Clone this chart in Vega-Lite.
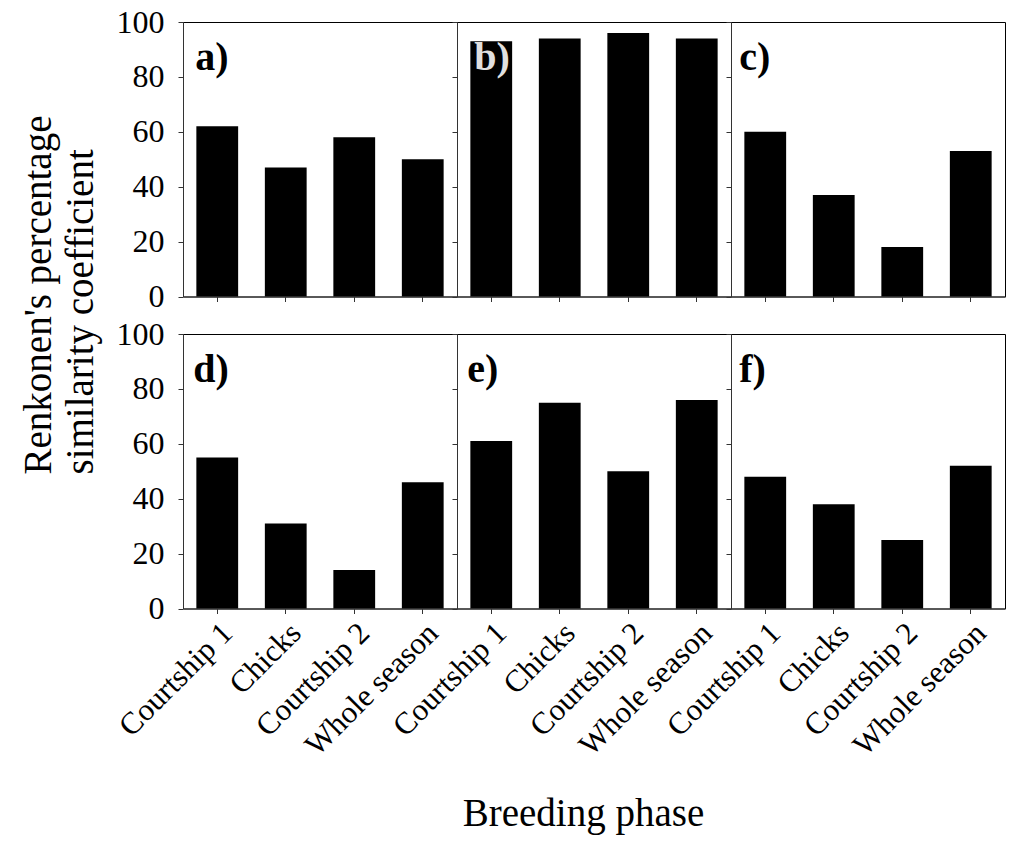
{
  "$schema": "https://vega.github.io/schema/vega-lite/v6.json",
  "background": "white",
  "padding": {"left": 18, "top": 5, "right": 5, "bottom": 5},
  "data": {
    "values": [
      {"panel": "a", "phase": "Courtship 1", "value": 62, "label": "a)"},
      {"panel": "a", "phase": "Chicks", "value": 47, "label": "a)"},
      {"panel": "a", "phase": "Courtship 2", "value": 58, "label": "a)"},
      {"panel": "a", "phase": "Whole season", "value": 50, "label": "a)"},
      {"panel": "b", "phase": "Courtship 1", "value": 93, "label": "b)"},
      {"panel": "b", "phase": "Chicks", "value": 94, "label": "b)"},
      {"panel": "b", "phase": "Courtship 2", "value": 96, "label": "b)"},
      {"panel": "b", "phase": "Whole season", "value": 94, "label": "b)"},
      {"panel": "c", "phase": "Courtship 1", "value": 60, "label": "c)"},
      {"panel": "c", "phase": "Chicks", "value": 37, "label": "c)"},
      {"panel": "c", "phase": "Courtship 2", "value": 18, "label": "c)"},
      {"panel": "c", "phase": "Whole season", "value": 53, "label": "c)"},
      {"panel": "d", "phase": "Courtship 1", "value": 55, "label": "d)"},
      {"panel": "d", "phase": "Chicks", "value": 31, "label": "d)"},
      {"panel": "d", "phase": "Courtship 2", "value": 14, "label": "d)"},
      {"panel": "d", "phase": "Whole season", "value": 46, "label": "d)"},
      {"panel": "e", "phase": "Courtship 1", "value": 61, "label": "e)"},
      {"panel": "e", "phase": "Chicks", "value": 75, "label": "e)"},
      {"panel": "e", "phase": "Courtship 2", "value": 50, "label": "e)"},
      {"panel": "e", "phase": "Whole season", "value": 76, "label": "e)"},
      {"panel": "f", "phase": "Courtship 1", "value": 48, "label": "f)"},
      {"panel": "f", "phase": "Chicks", "value": 38, "label": "f)"},
      {"panel": "f", "phase": "Courtship 2", "value": 25, "label": "f)"},
      {"panel": "f", "phase": "Whole season", "value": 52, "label": "f)"}
    ]
  },
  "config": {
    "font": "Liberation Serif",
    "view": {"stroke": "black", "strokeWidth": 1},
    "axis": {
      "grid": false,
      "labelFont": "Liberation Serif",
      "titleFont": "Liberation Serif",
      "labelColor": "black",
      "titleColor": "black",
      "domainColor": "#333333",
      "tickColor": "#333333",
      "tickSize": 5,
      "titleFontWeight": "normal"
    },
    "axisY": {"labelFontSize": 32, "labelPadding": 14, "values": [0, 20, 40, 60, 80, 100]},
    "axisX": {"labelFontSize": 31, "labelAngle": -45, "labelPadding": 4},
    "bar": {"color": "black"},
    "text": {"font": "Liberation Serif", "fontSize": 40, "fontWeight": "bold", "align": "left", "baseline": "alphabetic", "dy": 48}
  },
  "bounds": "flush",
  "columns": 3,
  "spacing": {"row": 37, "column": 0},
  "concat": [
    {
      "width": 274, "height": 274.5,
      "transform": [{"filter": "datum.panel === 'a'"}],
      "encoding": {
        "x": {"field": "phase", "type": "nominal", "sort": ["Courtship 1", "Chicks", "Courtship 2", "Whole season"], "scale": {"paddingInner": 0.39, "paddingOuter": 0.195}, "axis": {"labels": false, "title": null}},
        "y": {"field": "value", "type": "quantitative", "scale": {"domain": [0, 100]}, "axis": {"title": ["Renkonen's percentage", "similarity coefficient"], "titleFontSize": 39, "titleAlign": "left", "titleY": 452, "titlePadding": 16, "titleLineHeight": 42}}
      },
      "layer": [
        {"mark": {"type": "bar"}},
        {"transform": [{"filter": "datum.phase === 'Courtship 1'"}], "mark": {"type": "text", "dx": -22, "color": "black"}, "encoding": {"y": {"datum": 100}, "text": {"field": "label"}}}
      ]
    },
    {
      "width": 274, "height": 274.5,
      "transform": [{"filter": "datum.panel === 'b'"}],
      "encoding": {
        "x": {"field": "phase", "type": "nominal", "sort": ["Courtship 1", "Chicks", "Courtship 2", "Whole season"], "scale": {"paddingInner": 0.39, "paddingOuter": 0.195}, "axis": {"labels": false, "title": null}},
        "y": {"field": "value", "type": "quantitative", "scale": {"domain": [0, 100]}, "axis": {"labels": false, "title": null}}
      },
      "layer": [
        {"mark": {"type": "bar"}},
        {"transform": [{"filter": "datum.phase === 'Courtship 1'"}], "mark": {"type": "text", "dx": -17, "color": "#e0e0e0"}, "encoding": {"y": {"datum": 100}, "text": {"field": "label"}}}
      ]
    },
    {
      "width": 274, "height": 274.5,
      "transform": [{"filter": "datum.panel === 'c'"}],
      "encoding": {
        "x": {"field": "phase", "type": "nominal", "sort": ["Courtship 1", "Chicks", "Courtship 2", "Whole season"], "scale": {"paddingInner": 0.39, "paddingOuter": 0.195}, "axis": {"labels": false, "title": null}},
        "y": {"field": "value", "type": "quantitative", "scale": {"domain": [0, 100]}, "axis": {"labels": false, "title": null}}
      },
      "layer": [
        {"mark": {"type": "bar"}},
        {"transform": [{"filter": "datum.phase === 'Courtship 1'"}], "mark": {"type": "text", "dx": -26, "color": "black"}, "encoding": {"y": {"datum": 100}, "text": {"field": "label"}}}
      ]
    },
    {
      "width": 274, "height": 274.5,
      "transform": [{"filter": "datum.panel === 'd'"}],
      "encoding": {
        "x": {"field": "phase", "type": "nominal", "sort": ["Courtship 1", "Chicks", "Courtship 2", "Whole season"], "scale": {"paddingInner": 0.39, "paddingOuter": 0.195}, "axis": {"title": null}},
        "y": {"field": "value", "type": "quantitative", "scale": {"domain": [0, 100]}, "axis": {"title": null}}
      },
      "layer": [
        {"mark": {"type": "bar"}},
        {"transform": [{"filter": "datum.phase === 'Courtship 1'"}], "mark": {"type": "text", "dx": -24, "color": "black"}, "encoding": {"y": {"datum": 100}, "text": {"field": "label"}}}
      ]
    },
    {
      "width": 274, "height": 274.5,
      "transform": [{"filter": "datum.panel === 'e'"}],
      "encoding": {
        "x": {"field": "phase", "type": "nominal", "sort": ["Courtship 1", "Chicks", "Courtship 2", "Whole season"], "scale": {"paddingInner": 0.39, "paddingOuter": 0.195}, "axis": {"title": "Breeding phase", "titleFontSize": 39, "titleX": 126, "titleY": 217, "titleBaseline": "alphabetic"}},
        "y": {"field": "value", "type": "quantitative", "scale": {"domain": [0, 100]}, "axis": {"labels": false, "title": null}}
      },
      "layer": [
        {"mark": {"type": "bar"}},
        {"transform": [{"filter": "datum.phase === 'Courtship 1'"}], "mark": {"type": "text", "dx": -24, "color": "black"}, "encoding": {"y": {"datum": 100}, "text": {"field": "label"}}}
      ]
    },
    {
      "width": 274, "height": 274.5,
      "transform": [{"filter": "datum.panel === 'f'"}],
      "encoding": {
        "x": {"field": "phase", "type": "nominal", "sort": ["Courtship 1", "Chicks", "Courtship 2", "Whole season"], "scale": {"paddingInner": 0.39, "paddingOuter": 0.195}, "axis": {"title": null}},
        "y": {"field": "value", "type": "quantitative", "scale": {"domain": [0, 100]}, "axis": {"labels": false, "title": null}}
      },
      "layer": [
        {"mark": {"type": "bar"}},
        {"transform": [{"filter": "datum.phase === 'Courtship 1'"}], "mark": {"type": "text", "dx": -26, "color": "black"}, "encoding": {"y": {"datum": 100}, "text": {"field": "label"}}}
      ]
    }
  ]
}
